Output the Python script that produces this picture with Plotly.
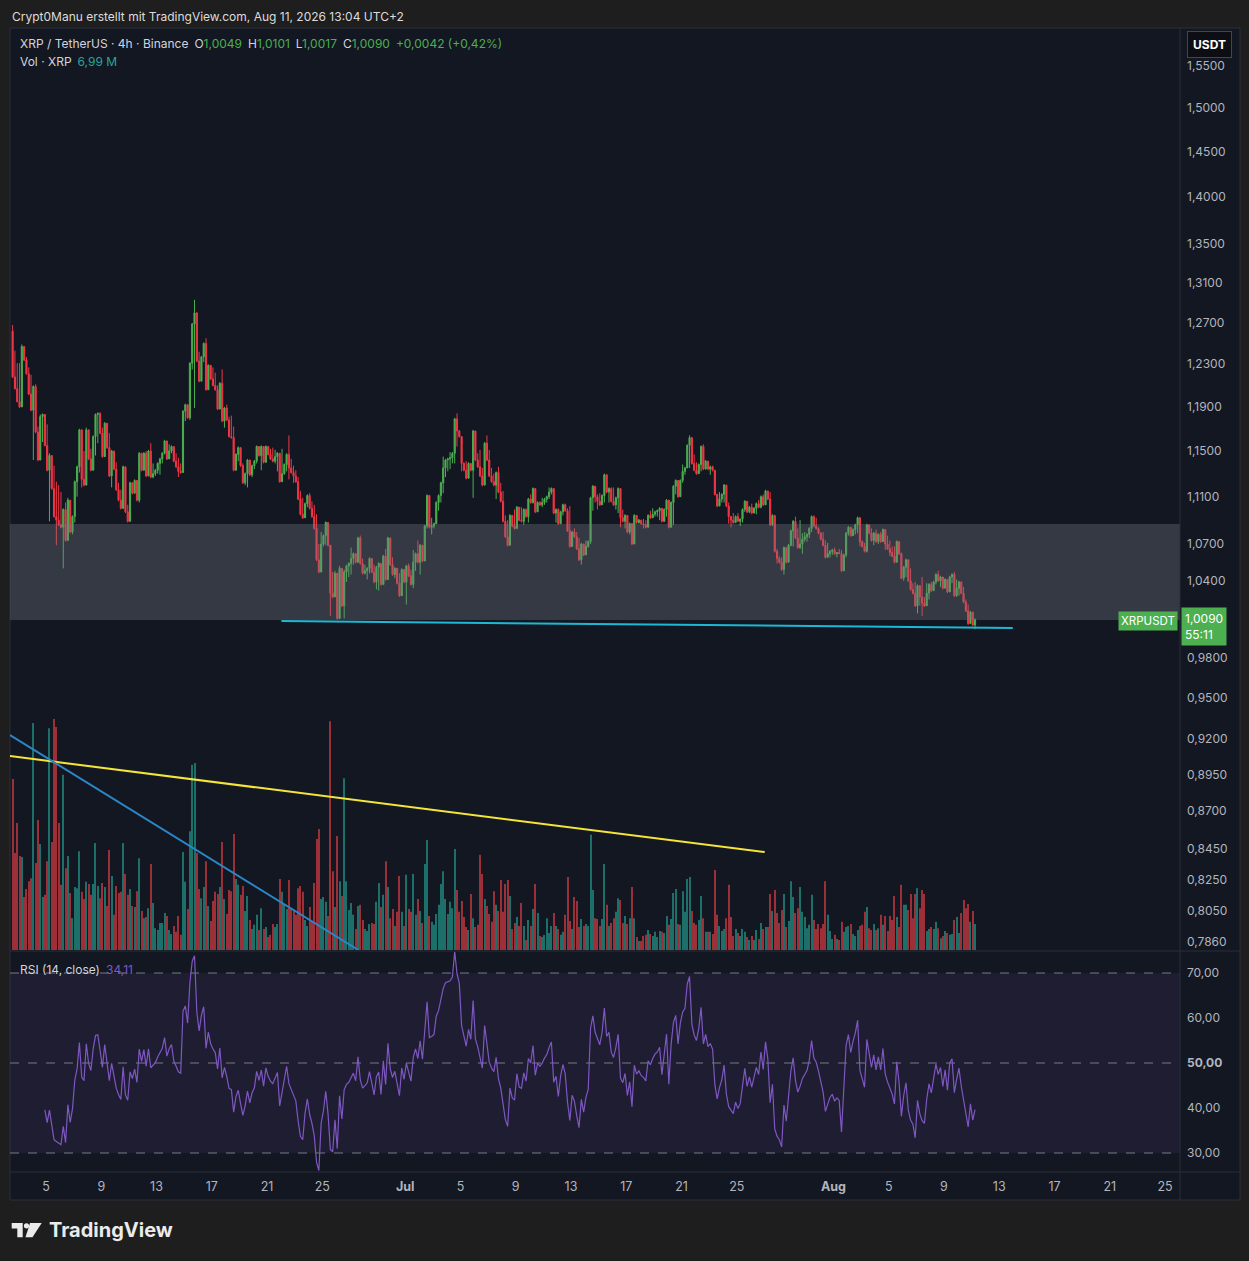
"""XRP / TetherUS 4h candles with volume, zone, trend lines and RSI (TradingView dark look)."""

import math

import numpy as np
import pandas as pd
import plotly.graph_objects as go

W, H = 1249, 1261

# ------------------------------------------------------------------ data
first_open = 1.262

close = [
    1.218, 1.207, 1.195, 1.190, 1.247, 1.234, 1.221, 1.202, 1.187, 1.209,
    1.167, 1.142, 1.181, 1.183, 1.155, 1.133, 1.146, 1.117, 1.093, 1.090,
    1.086, 1.084, 1.099, 1.073, 1.107, 1.080, 1.093, 1.123, 1.136, 1.169,
    1.125, 1.120, 1.169, 1.143, 1.133, 1.163, 1.183, 1.184, 1.166, 1.145,
    1.175, 1.153, 1.128, 1.150, 1.134, 1.116, 1.107, 1.100, 1.136, 1.097,
    1.089, 1.122, 1.113, 1.124, 1.107, 1.148, 1.133, 1.148, 1.128, 1.150,
    1.127, 1.130, 1.133, 1.139, 1.143, 1.148, 1.159, 1.143, 1.150, 1.154,
    1.141, 1.136, 1.132, 1.131, 1.186, 1.192, 1.180, 1.231, 1.269, 1.280,
    1.233, 1.214, 1.237, 1.250, 1.206, 1.229, 1.216, 1.210, 1.206, 1.188,
    1.212, 1.177, 1.189, 1.178, 1.163, 1.162, 1.133, 1.147, 1.153, 1.137,
    1.122, 1.130, 1.142, 1.129, 1.137, 1.141, 1.154, 1.146, 1.154, 1.140,
    1.154, 1.147, 1.143, 1.141, 1.145, 1.148, 1.123, 1.130, 1.138, 1.147,
    1.135, 1.131, 1.128, 1.123, 1.108, 1.095, 1.092, 1.104, 1.111, 1.100,
    1.093, 1.083, 1.057, 1.047, 1.070, 1.077, 1.088, 1.069, 1.030, 1.027,
    1.046, 1.010, 1.050, 1.020, 1.047, 1.052, 1.054, 1.058, 1.062, 1.055,
    1.075, 1.054, 1.046, 1.048, 1.050, 1.058, 1.047, 1.039, 1.051, 1.054,
    1.037, 1.060, 1.041, 1.075, 1.053, 1.045, 1.050, 1.038, 1.028, 1.049,
    1.039, 1.052, 1.044, 1.037, 1.055, 1.062, 1.055, 1.069, 1.056, 1.085,
    1.111, 1.084, 1.085, 1.087, 1.105, 1.111, 1.122, 1.135, 1.142, 1.143,
    1.144, 1.148, 1.179, 1.168, 1.163, 1.139, 1.133, 1.126, 1.139, 1.133,
    1.168, 1.142, 1.136, 1.128, 1.120, 1.157, 1.142, 1.128, 1.123, 1.120,
    1.131, 1.114, 1.106, 1.089, 1.076, 1.069, 1.094, 1.085, 1.083, 1.101,
    1.090, 1.089, 1.099, 1.093, 1.108, 1.105, 1.117, 1.097, 1.105, 1.103,
    1.105, 1.108, 1.110, 1.114, 1.117, 1.096, 1.099, 1.087, 1.097, 1.103,
    1.098, 1.081, 1.068, 1.080, 1.076, 1.066, 1.057, 1.070, 1.061, 1.068,
    1.072, 1.109, 1.119, 1.110, 1.106, 1.103, 1.111, 1.129, 1.114, 1.117,
    1.106, 1.103, 1.109, 1.117, 1.092, 1.089, 1.094, 1.080, 1.087, 1.070,
    1.094, 1.088, 1.090, 1.087, 1.086, 1.084, 1.094, 1.092, 1.095, 1.097,
    1.098, 1.100, 1.089, 1.099, 1.107, 1.084, 1.105, 1.119, 1.124, 1.110,
    1.124, 1.132, 1.135, 1.155, 1.162, 1.139, 1.133, 1.130, 1.138, 1.154,
    1.134, 1.141, 1.134, 1.136, 1.133, 1.112, 1.102, 1.108, 1.112, 1.120,
    1.102, 1.093, 1.090, 1.088, 1.093, 1.089, 1.091, 1.099, 1.106, 1.097,
    1.101, 1.096, 1.100, 1.104, 1.101, 1.110, 1.103, 1.115, 1.108, 1.086,
    1.094, 1.064, 1.058, 1.055, 1.049, 1.067, 1.055, 1.069, 1.081, 1.089,
    1.075, 1.067, 1.070, 1.074, 1.076, 1.078, 1.083, 1.093, 1.085, 1.083,
    1.079, 1.074, 1.069, 1.059, 1.062, 1.064, 1.065, 1.062, 1.063, 1.062,
    1.048, 1.061, 1.079, 1.084, 1.077, 1.082, 1.086, 1.092, 1.072, 1.068,
    1.064, 1.086, 1.079, 1.073, 1.079, 1.072, 1.078, 1.072, 1.082, 1.070,
    1.066, 1.063, 1.060, 1.055, 1.072, 1.062, 1.042, 1.051, 1.057, 1.040,
    1.033, 1.030, 1.020, 1.036, 1.027, 1.022, 1.020, 1.030, 1.037, 1.032,
    1.039, 1.045, 1.040, 1.043, 1.034, 1.041, 1.031, 1.043, 1.045, 1.028,
    1.034, 1.039, 1.030, 1.023, 1.016, 1.006, 1.015, 1.0049, 1.0090,
]

high = [
    1.268, 1.243, 1.231, 1.231, 1.249, 1.245, 1.237, 1.227, 1.220, 1.210,
    1.211, 1.172, 1.183, 1.184, 1.178, 1.174, 1.148, 1.146, 1.137, 1.123,
    1.120, 1.114, 1.100, 1.105, 1.109, 1.101, 1.094, 1.124, 1.137, 1.170,
    1.140, 1.150, 1.171, 1.167, 1.152, 1.164, 1.184, 1.185, 1.185, 1.171,
    1.176, 1.172, 1.166, 1.151, 1.145, 1.140, 1.122, 1.116, 1.137, 1.130,
    1.103, 1.123, 1.121, 1.125, 1.122, 1.149, 1.146, 1.149, 1.150, 1.151,
    1.157, 1.139, 1.134, 1.140, 1.144, 1.149, 1.160, 1.157, 1.156, 1.155,
    1.154, 1.148, 1.144, 1.139, 1.187, 1.193, 1.188, 1.232, 1.270, 1.293,
    1.278, 1.242, 1.238, 1.251, 1.255, 1.230, 1.225, 1.227, 1.222, 1.210,
    1.213, 1.225, 1.190, 1.192, 1.181, 1.182, 1.172, 1.148, 1.154, 1.152,
    1.139, 1.131, 1.143, 1.139, 1.138, 1.142, 1.155, 1.152, 1.155, 1.150,
    1.155, 1.151, 1.152, 1.153, 1.151, 1.149, 1.147, 1.152, 1.139, 1.148,
    1.164, 1.143, 1.137, 1.133, 1.127, 1.115, 1.109, 1.105, 1.112, 1.113,
    1.106, 1.103, 1.095, 1.070, 1.080, 1.078, 1.089, 1.087, 1.047, 1.047,
    1.048, 1.045, 1.052, 1.050, 1.049, 1.053, 1.055, 1.067, 1.063, 1.060,
    1.076, 1.077, 1.058, 1.053, 1.051, 1.059, 1.057, 1.053, 1.052, 1.055,
    1.054, 1.061, 1.066, 1.076, 1.075, 1.059, 1.051, 1.048, 1.046, 1.050,
    1.046, 1.053, 1.054, 1.049, 1.065, 1.063, 1.073, 1.070, 1.068, 1.086,
    1.112, 1.096, 1.092, 1.088, 1.106, 1.112, 1.123, 1.145, 1.143, 1.144,
    1.149, 1.149, 1.180, 1.184, 1.169, 1.156, 1.140, 1.141, 1.140, 1.139,
    1.169, 1.161, 1.148, 1.151, 1.135, 1.158, 1.164, 1.151, 1.135, 1.130,
    1.132, 1.136, 1.122, 1.115, 1.094, 1.090, 1.095, 1.093, 1.099, 1.102,
    1.099, 1.101, 1.100, 1.100, 1.109, 1.112, 1.118, 1.114, 1.106, 1.106,
    1.109, 1.109, 1.111, 1.118, 1.118, 1.116, 1.100, 1.100, 1.098, 1.104,
    1.104, 1.100, 1.102, 1.081, 1.083, 1.080, 1.075, 1.071, 1.070, 1.073,
    1.073, 1.110, 1.120, 1.115, 1.112, 1.113, 1.112, 1.130, 1.126, 1.118,
    1.118, 1.118, 1.110, 1.118, 1.114, 1.099, 1.095, 1.093, 1.088, 1.086,
    1.095, 1.091, 1.091, 1.090, 1.091, 1.090, 1.095, 1.098, 1.100, 1.098,
    1.099, 1.101, 1.098, 1.100, 1.108, 1.100, 1.106, 1.120, 1.125, 1.118,
    1.125, 1.138, 1.136, 1.156, 1.164, 1.157, 1.147, 1.140, 1.139, 1.155,
    1.156, 1.142, 1.140, 1.137, 1.137, 1.133, 1.112, 1.114, 1.113, 1.121,
    1.113, 1.105, 1.092, 1.096, 1.094, 1.096, 1.091, 1.100, 1.107, 1.100,
    1.102, 1.104, 1.101, 1.105, 1.107, 1.111, 1.112, 1.116, 1.115, 1.114,
    1.095, 1.094, 1.066, 1.060, 1.059, 1.068, 1.066, 1.070, 1.082, 1.090,
    1.093, 1.083, 1.090, 1.079, 1.080, 1.079, 1.084, 1.094, 1.094, 1.092,
    1.084, 1.080, 1.080, 1.073, 1.071, 1.065, 1.066, 1.067, 1.063, 1.066,
    1.065, 1.062, 1.080, 1.085, 1.083, 1.083, 1.087, 1.093, 1.087, 1.073,
    1.071, 1.087, 1.084, 1.083, 1.080, 1.082, 1.079, 1.080, 1.083, 1.080,
    1.077, 1.073, 1.068, 1.068, 1.073, 1.072, 1.063, 1.052, 1.058, 1.054,
    1.050, 1.038, 1.039, 1.037, 1.029, 1.043, 1.027, 1.038, 1.038, 1.039,
    1.040, 1.046, 1.048, 1.044, 1.041, 1.042, 1.038, 1.044, 1.046, 1.047,
    1.041, 1.040, 1.038, 1.035, 1.025, 1.021, 1.016, 1.015, 1.0101,
]

low = [
    1.217, 1.206, 1.194, 1.189, 1.196, 1.233, 1.220, 1.201, 1.186, 1.142,
    1.166, 1.141, 1.150, 1.158, 1.154, 1.132, 1.089, 1.116, 1.092, 1.069,
    1.085, 1.083, 1.050, 1.072, 1.080, 1.079, 1.078, 1.088, 1.110, 1.131,
    1.118, 1.119, 1.121, 1.142, 1.132, 1.136, 1.146, 1.157, 1.165, 1.144,
    1.150, 1.152, 1.127, 1.118, 1.133, 1.115, 1.106, 1.099, 1.101, 1.096,
    1.088, 1.096, 1.112, 1.113, 1.106, 1.105, 1.132, 1.136, 1.127, 1.132,
    1.126, 1.126, 1.128, 1.130, 1.129, 1.139, 1.147, 1.142, 1.145, 1.148,
    1.140, 1.135, 1.127, 1.130, 1.131, 1.177, 1.179, 1.178, 1.225, 1.189,
    1.232, 1.213, 1.220, 1.232, 1.205, 1.208, 1.215, 1.209, 1.205, 1.187,
    1.188, 1.176, 1.171, 1.177, 1.162, 1.161, 1.132, 1.134, 1.141, 1.136,
    1.121, 1.120, 1.118, 1.128, 1.127, 1.134, 1.139, 1.145, 1.133, 1.139,
    1.142, 1.146, 1.142, 1.140, 1.139, 1.132, 1.122, 1.124, 1.129, 1.132,
    1.125, 1.130, 1.122, 1.122, 1.107, 1.094, 1.091, 1.095, 1.101, 1.099,
    1.092, 1.082, 1.056, 1.046, 1.054, 1.068, 1.069, 1.068, 1.012, 1.026,
    1.031, 1.009, 1.026, 1.019, 1.010, 1.039, 1.043, 1.045, 1.053, 1.054,
    1.059, 1.053, 1.045, 1.045, 1.041, 1.046, 1.046, 1.038, 1.033, 1.032,
    1.036, 1.041, 1.040, 1.043, 1.052, 1.044, 1.042, 1.037, 1.027, 1.031,
    1.038, 1.021, 1.043, 1.036, 1.034, 1.048, 1.054, 1.045, 1.055, 1.058,
    1.083, 1.083, 1.078, 1.083, 1.088, 1.098, 1.105, 1.113, 1.127, 1.132,
    1.134, 1.139, 1.139, 1.154, 1.162, 1.132, 1.132, 1.125, 1.128, 1.132,
    1.109, 1.141, 1.135, 1.127, 1.119, 1.140, 1.141, 1.127, 1.122, 1.119,
    1.108, 1.113, 1.105, 1.088, 1.075, 1.068, 1.073, 1.084, 1.082, 1.084,
    1.089, 1.088, 1.086, 1.092, 1.088, 1.104, 1.104, 1.096, 1.097, 1.102,
    1.101, 1.103, 1.105, 1.108, 1.112, 1.095, 1.088, 1.086, 1.090, 1.094,
    1.097, 1.080, 1.067, 1.069, 1.075, 1.065, 1.056, 1.053, 1.060, 1.063,
    1.067, 1.070, 1.098, 1.105, 1.099, 1.102, 1.103, 1.105, 1.113, 1.105,
    1.105, 1.102, 1.099, 1.096, 1.084, 1.088, 1.083, 1.079, 1.078, 1.069,
    1.080, 1.087, 1.087, 1.086, 1.083, 1.083, 1.085, 1.091, 1.092, 1.093,
    1.093, 1.090, 1.088, 1.093, 1.093, 1.083, 1.086, 1.086, 1.112, 1.109,
    1.113, 1.122, 1.129, 1.138, 1.135, 1.138, 1.132, 1.129, 1.131, 1.132,
    1.133, 1.134, 1.133, 1.129, 1.132, 1.111, 1.101, 1.103, 1.105, 1.105,
    1.101, 1.087, 1.084, 1.087, 1.088, 1.089, 1.085, 1.088, 1.097, 1.096,
    1.096, 1.095, 1.096, 1.095, 1.100, 1.100, 1.102, 1.105, 1.107, 1.085,
    1.085, 1.063, 1.054, 1.054, 1.048, 1.045, 1.054, 1.059, 1.068, 1.068,
    1.074, 1.066, 1.066, 1.062, 1.072, 1.072, 1.075, 1.080, 1.084, 1.082,
    1.078, 1.073, 1.068, 1.058, 1.059, 1.059, 1.061, 1.061, 1.059, 1.062,
    1.047, 1.051, 1.059, 1.077, 1.076, 1.078, 1.078, 1.079, 1.068, 1.067,
    1.063, 1.063, 1.078, 1.072, 1.069, 1.071, 1.070, 1.071, 1.073, 1.065,
    1.065, 1.060, 1.059, 1.054, 1.059, 1.061, 1.041, 1.040, 1.043, 1.039,
    1.032, 1.029, 1.019, 1.014, 1.020, 1.012, 1.019, 1.020, 1.025, 1.031,
    1.033, 1.037, 1.039, 1.035, 1.033, 1.034, 1.030, 1.038, 1.038, 1.027,
    1.027, 1.028, 1.029, 1.022, 1.015, 1.005, 1.010, 1.004, 1.0017,
]

# volume in millions of XRP
volume_m = [
    46.2, 26.2, 34.3, 25.4, 25.1, 14.3, 16.5, 18.6, 19.4, 61.3,
    23.5, 35.1, 28.6, 14.3, 14.9, 24.0, 59.9, 29.2, 62.4, 60.2,
    34.3, 17.6, 47.3, 22.1, 25.4, 15.4, 8.6, 17.0, 16.7, 26.7,
    15.7, 13.8, 18.4, 17.8, 14.9, 17.8, 28.9, 17.3, 14.0, 18.1,
    17.0, 11.9, 27.0, 20.0, 9.5, 17.3, 15.4, 15.7, 28.9, 20.5,
    14.9, 16.5, 11.9, 11.6, 15.9, 24.8, 10.5, 8.6, 8.9, 11.3,
    23.2, 12.7, 5.9, 5.4, 7.3, 7.3, 10.0, 9.2, 5.4, 4.3,
    6.5, 4.9, 9.2, 4.1, 26.5, 18.4, 11.1, 32.1, 50.0, 50.5,
    26.2, 16.5, 14.0, 17.0, 24.0, 11.9, 7.8, 13.2, 15.7, 15.1,
    17.0, 29.2, 13.8, 9.7, 16.2, 15.9, 31.3, 19.2, 17.6, 14.9,
    17.3, 10.5, 14.6, 8.1, 5.7, 6.8, 9.5, 5.4, 11.3, 5.7,
    6.2, 3.5, 4.1, 7.0, 6.2, 7.0, 19.2, 15.7, 12.4, 11.1,
    18.9, 11.1, 10.5, 9.5, 16.7, 17.3, 15.7, 8.1, 6.5, 11.6,
    7.8, 18.1, 30.0, 32.7, 13.8, 14.3, 13.0, 9.2, 61.8, 21.3,
    11.6, 30.8, 18.6, 14.6, 46.4, 18.6, 10.8, 12.7, 9.5, 5.7,
    11.9, 12.2, 8.1, 5.7, 5.1, 7.0, 7.3, 7.0, 13.0, 18.1,
    11.6, 14.9, 24.0, 17.0, 8.6, 11.1, 6.5, 10.3, 20.0, 10.3,
    6.5, 20.3, 11.1, 10.3, 20.5, 9.5, 13.8, 10.5, 7.3, 23.2,
    29.7, 9.2, 7.6, 6.8, 9.7, 12.2, 17.8, 21.3, 13.8, 9.7,
    13.0, 11.3, 27.3, 16.2, 10.3, 13.2, 8.9, 6.2, 5.4, 15.1,
    8.6, 6.2, 6.8, 25.7, 20.5, 13.8, 11.9, 9.7, 7.6, 15.9,
    12.2, 10.5, 18.9, 10.3, 17.8, 18.9, 14.6, 5.7, 7.3, 8.9,
    6.5, 12.7, 6.5, 2.7, 8.1, 6.5, 11.1, 17.8, 10.0, 3.8,
    3.5, 4.1, 8.6, 4.6, 6.5, 10.0, 6.5, 5.7, 4.1, 4.9,
    9.5, 19.7, 7.8, 5.7, 14.3, 13.2, 6.2, 8.4, 6.5, 7.0,
    6.5, 31.1, 16.2, 8.6, 8.4, 6.5, 8.4, 23.2, 12.2, 6.5,
    7.3, 8.6, 10.3, 14.0, 13.5, 7.3, 9.2, 7.0, 8.6, 17.0,
    8.6, 3.5, 2.4, 2.4, 3.8, 4.1, 5.4, 4.3, 3.8, 4.9,
    3.5, 5.1, 4.9, 4.6, 9.2, 6.8, 8.4, 15.4, 16.5, 7.0,
    6.8, 15.9, 10.3, 19.2, 19.7, 10.5, 7.3, 6.8, 8.1, 14.6,
    8.6, 4.9, 4.9, 4.9, 4.3, 21.6, 9.5, 6.5, 5.1, 5.7,
    8.6, 17.6, 8.9, 3.8, 5.7, 4.6, 3.8, 5.7, 4.9, 3.5,
    2.7, 3.8, 2.7, 5.4, 3.0, 7.3, 5.7, 6.2, 6.2, 15.1,
    10.5, 16.2, 10.0, 7.3, 10.8, 15.1, 6.2, 7.8, 18.6, 14.3,
    10.0, 11.3, 17.0, 10.3, 8.9, 5.9, 6.8, 14.9, 8.1, 5.7,
    7.0, 5.9, 7.0, 18.6, 9.5, 5.1, 3.0, 4.1, 3.0, 2.7,
    7.6, 4.9, 6.2, 6.5, 7.0, 4.3, 3.8, 5.4, 6.5, 6.8,
    10.3, 11.6, 5.9, 5.4, 7.0, 5.4, 5.9, 9.5, 6.8, 9.2,
    5.1, 9.2, 8.1, 14.6, 8.9, 6.2, 17.6, 12.2, 12.2, 10.8,
    15.1, 8.6, 15.1, 16.7, 11.3, 16.2, 15.1, 5.1, 5.7, 6.2,
    5.7, 7.6, 5.9, 3.2, 3.8, 5.1, 4.6, 4.1, 4.3, 8.1,
    8.9, 4.6, 10.0, 13.5, 11.3, 12.4, 7.6, 10.5, 6.99,
]

price_ticks = [1.55, 1.50, 1.45, 1.40, 1.35, 1.31, 1.27, 1.23, 1.19, 1.15, 1.11,
               1.07, 1.04, 0.98, 0.95, 0.92, 0.895, 0.87, 0.845, 0.825, 0.805, 0.786]
rsi_ticks = [30, 40, 50, 60, 70]
date_ticks = ["2026-06-05", "2026-06-09", "2026-06-13", "2026-06-17", "2026-06-21",
              "2026-06-25", "2026-07-01", "2026-07-05", "2026-07-09", "2026-07-13",
              "2026-07-17", "2026-07-21", "2026-07-25", "2026-08-01", "2026-08-05",
              "2026-08-09", "2026-08-13", "2026-08-17", "2026-08-21", "2026-08-25"]
date_labels = ["5", "9", "13", "17", "21", "25", "<b>Jul</b>", "5", "9", "13",
               "17", "21", "25", "<b>Aug</b>", "5", "9", "13", "17", "21", "25"]

# drawings
zone_prices = [1.0088, 1.0867]
support_dates = ["2026-06-22 01:00", "2026-08-13 23:30"]
support_prices = [1.0080, 1.0026]
yellow_dates = ["2026-06-02 09:27", "2026-07-27 00:30"]
yellow_prices = [0.9078, 0.8427]
blue_dates = ["2026-06-02 09:27", "2026-06-27 14:40"]
blue_prices = [0.9227, 0.7811]

X_RANGE = ["2026-06-02 09:27", "2026-08-26 02:02"]
PRICE_RANGE = [0.78109, 1.5963]
RSI_RANGE = [25.78, 74.67]
VOL_MAX = 249

UP, DOWN = "#4caf50", "#f23645"
BG, FRAME, GRID = "#131722", "#1e1e1e", "#2a2e39"
TXT = "#b2b5be"
FONT = "Inter, Roboto, sans-serif"


def fx(x):
    return x / W


def fy(y):
    return 1 - y / H


def rsi(values, n=14):
    c = np.asarray(values, dtype=float)
    d = np.diff(c)
    gain, loss = np.clip(d, 0, None), np.clip(-d, 0, None)
    out = np.full(len(c), np.nan)
    ag, al = gain[:n].mean(), loss[:n].mean()
    out[n] = 100 - 100 / (1 + ag / al)
    for i in range(n + 1, len(c)):
        ag = (ag * (n - 1) + gain[i - 1]) / n
        al = (al * (n - 1) + loss[i - 1]) / n
        out[i] = 100.0 if al == 0 else 100 - 100 / (1 + ag / al)
    return out


dates = pd.date_range("2026-06-02 14:00", periods=len(close), freq="4h")
opens = [first_open] + close[:-1]  # crypto 4h candles open at the previous close
vol_colors = ["#1d6f69" if c >= o else "#9c3039" for o, c in zip(opens, close)]
rsi_vals = rsi(close)

fig = go.Figure()

# volume (base axis of the price pane, drawn first)
fig.add_trace(go.Bar(x=dates, y=volume_m, marker=dict(color=vol_colors, line_width=0),
                     xaxis="x", yaxis="y", hoverinfo="skip"))

fig.add_trace(go.Candlestick(
    x=dates, open=opens, high=high, low=low, close=close,
    increasing=dict(line=dict(color=UP, width=1), fillcolor=UP),
    decreasing=dict(line=dict(color=DOWN, width=1), fillcolor=DOWN),
    whiskerwidth=0, xaxis="x", yaxis="y3", hoverinfo="skip"))

# grey support zone drawn over the candles
fig.add_trace(go.Scatter(
    x=[X_RANGE[0], X_RANGE[1], X_RANGE[1], X_RANGE[0], X_RANGE[0]],
    y=[zone_prices[0], zone_prices[0], zone_prices[1], zone_prices[1], zone_prices[0]],
    mode="lines", fill="toself", fillcolor="rgba(120,123,134,0.34)",
    line=dict(width=0), xaxis="x", yaxis="y3", hoverinfo="skip"))

for xs, ys, col in [(yellow_dates, yellow_prices, "#f5e53a"),
                    (blue_dates, blue_prices, "#2b86c8"),
                    (support_dates, support_prices, "#1fb8d3")]:
    fig.add_trace(go.Scatter(x=xs, y=ys, mode="lines", line=dict(color=col, width=2),
                             xaxis="x", yaxis="y3", hoverinfo="skip"))

fig.add_trace(go.Scatter(x=dates, y=rsi_vals, mode="lines",
                         line=dict(color="#7e57c2", width=1.2),
                         xaxis="x2", yaxis="y2", hoverinfo="skip"))

x_domain = [fx(10), fx(1180)]
axis_common = dict(showgrid=False, zeroline=False, showline=False, automargin=False)

fig.update_layout(
    width=W, height=H, autosize=False,
    margin=dict(l=0, r=0, t=0, b=0),
    paper_bgcolor=FRAME, plot_bgcolor="rgba(0,0,0,0)",
    showlegend=False, separators=",.",
    font=dict(family=FONT, color=TXT, size=12),
    bargap=0.55,
    xaxis=dict(domain=x_domain, range=X_RANGE, type="date", anchor="y",
               showticklabels=False, ticks="", rangeslider=dict(visible=False),
               **axis_common),
    xaxis2=dict(domain=x_domain, matches="x", type="date", anchor="y2",
                tickvals=date_ticks, ticktext=date_labels, ticks="",
                tickfont=dict(size=12.5, color=TXT, family=FONT),
                ticklabelstandoff=5, **axis_common),
    yaxis=dict(domain=[fy(950), fy(28)], range=[0, VOL_MAX], anchor="x",
               showticklabels=False, ticks="", **axis_common),
    yaxis3=dict(overlaying="y", anchor="x", side="right", type="log",
                range=[math.log10(PRICE_RANGE[0]), math.log10(PRICE_RANGE[1])],
                tickvals=price_ticks,
                ticktext=[f"{v:.4f}".replace(".", ",") for v in price_ticks],
                ticks="", ticklabelstandoff=6,
                tickfont=dict(size=12, color=TXT, family=FONT), **axis_common),
    yaxis2=dict(domain=[fy(1172), fy(952)], range=RSI_RANGE, anchor="x2", side="right",
                tickvals=rsi_ticks,
                ticktext=[(f"<b>{v:.2f}</b>" if v == 50 else f"{v:.2f}").replace(".", ",")
                          for v in rsi_ticks],
                ticks="", ticklabelstandoff=6,
                tickfont=dict(size=12, color=TXT, family=FONT), **axis_common),
)

shapes = [
    # chart frame
    dict(type="rect", xref="paper", yref="paper", x0=fx(10), x1=fx(1240), y0=fy(1200),
         y1=fy(28), fillcolor=BG, line=dict(color=GRID, width=1), layer="below"),
    # RSI 30-70 band
    dict(type="rect", xref="paper", yref="y2", x0=x_domain[0], x1=x_domain[1], y0=30,
         y1=70, fillcolor="rgba(126,87,194,0.10)", line=dict(width=0), layer="below"),
]
for lvl in (30, 50, 70):
    shapes.append(dict(type="line", xref="paper", yref="y2", x0=x_domain[0],
                       x1=x_domain[1], y0=lvl, y1=lvl, layer="below",
                       line=dict(color="#787b86", width=1, dash="dash")))
for y in (951, 1172):
    shapes.append(dict(type="line", xref="paper", yref="paper", x0=fx(10), x1=fx(1240),
                       y0=fy(y), y1=fy(y), line=dict(color=GRID, width=1)))
shapes.append(dict(type="line", xref="paper", yref="paper", x0=fx(1180), x1=fx(1180),
                   y0=fy(1200), y1=fy(28), line=dict(color=GRID, width=1)))


def poly(points):
    return "M " + " L ".join(f"{fx(x):.5f},{fy(y):.5f}" for x, y in points) + " Z"


logo = "#ebebeb"
shapes += [
    dict(type="path", xref="paper", yref="paper", fillcolor=logo, line=dict(width=0),
         path=poly([(11.7, 1223), (22.7, 1223), (22.7, 1237.3), (17.3, 1237.3),
                    (17.3, 1228.5), (11.7, 1228.5)])),
    dict(type="circle", xref="paper", yref="paper", fillcolor=logo, line=dict(width=0),
         x0=fx(23.9), x1=fx(29.1), y0=fy(1228.4), y1=fy(1223.2)),
    dict(type="path", xref="paper", yref="paper", fillcolor=logo, line=dict(width=0),
         path=poly([(30.0, 1223), (41.7, 1223), (32.5, 1237.3), (25.5, 1237.3)])),
]
fig.update_layout(shapes=shapes)

G = "<span style='color:#4caf50'>{}</span>"
ann = [
    dict(x=fx(10), y=fy(17), text="Crypt0Manu erstellt mit TradingView.com, Aug 11, 2026 13:04 UTC+2",
         font=dict(size=12, color="#dcdcdc")),
    dict(x=fx(18), y=fy(44),
         text=("XRP / TetherUS · 4h · Binance\u2002O" + G.format("1,0049") + "\u2002H"
               + G.format("1,0101") + "\u2002L" + G.format("1,0017") + "\u2002C"
               + G.format("1,0090") + "\u2002" + G.format("+0,0042 (+0,42%)")),
         font=dict(size=12, color="#d1d4dc")),
    dict(x=fx(18), y=fy(61), text="Vol · XRP\u2002<span style='color:#26a69a'>6,99 M</span>",
         font=dict(size=12, color="#d1d4dc")),
    dict(x=fx(18), y=fy(969), text="RSI (14, close)\u2002<span style='color:#7e57c2'>34,11</span>",
         font=dict(size=12, color="#d1d4dc")),
    dict(x=fx(47), y=fy(1230), text="<b>TradingView</b>", font=dict(size=20, color=logo)),
]
for a in ann:
    a.update(xref="paper", yref="paper", xanchor="left", yanchor="middle",
             showarrow=False, align="left")

ann += [
    dict(x=fx(1209), y=fy(45), xref="paper", yref="paper", text="<b>USDT</b>",
         showarrow=False, xanchor="center", yanchor="middle",
         font=dict(size=12, color="#ffffff"), bgcolor="#0c0e14", bordercolor="#434651",
         borderwidth=1, borderpad=5),
    dict(x=fx(1178), y=fy(620.5), xref="paper", yref="paper", text="XRPUSDT",
         showarrow=False, xanchor="right", yanchor="middle",
         font=dict(size=11.5, color="#ffffff"), bgcolor=UP, borderpad=2),
    dict(x=fx(1181), y=fy(626.5), xref="paper", yref="paper", text="1,0090<br>55:11",
         showarrow=False, xanchor="left", yanchor="middle", align="left",
         font=dict(size=12, color="#ffffff"), bgcolor=UP, borderpad=3),
]
fig.update_layout(annotations=ann)

# the page's default 8px body margin would shift the figure; drop it
fig.write_html("out.html", config={"displayModeBar": False},
               post_script="document.body.style.margin='0';")
